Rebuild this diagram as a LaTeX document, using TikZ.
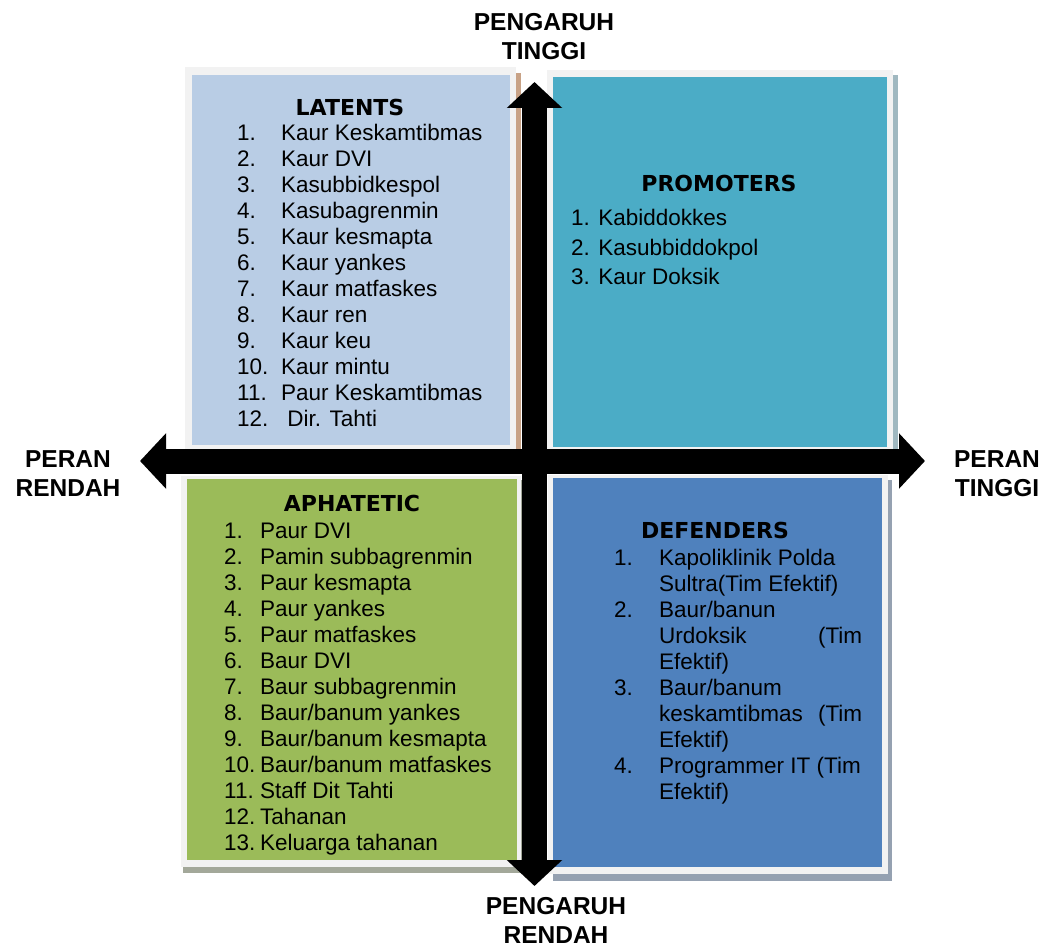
\documentclass[tikz,border=0pt]{standalone}
\usepackage{fontspec}
\setmainfont{Liberation Sans}
\newfontfamily\headfont{DejaVu Sans}
\usetikzlibrary{arrows.meta}

\definecolor{latentfill}{HTML}{B9CDE5}
\definecolor{promoterfill}{HTML}{4BACC6}
\definecolor{apathfill}{HTML}{9BBB59}
\definecolor{defenderfill}{HTML}{4F81BD}
\definecolor{framegray}{HTML}{F2F2F2}
\definecolor{latentshade}{HTML}{C8A286}
\definecolor{promotershade}{HTML}{A0B8C0}
\definecolor{apathshade}{HTML}{A3A89A}
\definecolor{defendershade}{HTML}{95A1B1}

\newcommand{\listfont}{\fontsize{22.5}{26}\selectfont}

\begin{document}
\begin{tikzpicture}[x=1pt,y=-1pt,
  title/.style={font=\headfont\fontsize{22}{27}\selectfont\bfseries},
  axislabel/.style={font=\fontsize{24.5}{29}\selectfont\bfseries, align=center},
  itemlist/.style={anchor=north west, inner sep=0pt, font=\listfont},
  axis/.style={line width=25pt, {Triangle[width=54pt,length=26pt]}-{Triangle[width=54pt,length=26pt]}}]
\useasboundingbox (0,0) rectangle (1052,949);

% quadrant boxes: shadow, frame, fill
\fill[latentshade] (190,73) rectangle (521,452);
\fill[framegray] (185,67) rectangle (516,449);
\fill[latentfill] (192,75) rectangle (510,445);

\fill[promotershade] (552,75) rectangle (898,452);
\fill[framegray] (547,70) rectangle (893,449);
\fill[promoterfill] (553,77) rectangle (887,447);

\fill[apathshade] (183,480) rectangle (526,873);
\fill[framegray] (181,476) rectangle (521,867);
\fill[apathfill] (187,479) rectangle (517,860);

\fill[defendershade] (553,480) rectangle (892,881);
\fill[framegray] (548,475) rectangle (888,874);
\fill[defenderfill] (553,478) rectangle (882,867);

% titles
\node[title] (lat) at (350,107) {LATENTS};
\node[title] (pro) at (719,183) {PROMOTERS};
\node[title] (apa) at (352,503) {APHATETIC};
\node[title] (def) at (715,530) {DEFENDERS};

% lists
\node[itemlist] (latlist) at (237,122) {\begin{tabular}{@{}p{44pt}@{}l@{}}
1. & Kaur Keskamtibmas\\
2. & Kaur DVI\\
3. & Kasubbidkespol\\
4. & Kasubagrenmin\\
5. & Kaur kesmapta\\
6. & Kaur yankes\\
7. & Kaur matfaskes\\
8. & Kaur ren\\
9. & Kaur keu\\
10. & Kaur mintu\\
11. & Paur Keskamtibmas\\
12. & \ Dir. Tahti
\end{tabular}};

\node[itemlist, font=\fontsize{22.5}{29.5}\selectfont] (prolist) at (571,205) {\begin{tabular}{@{}l@{}}
1. Kabiddokkes\\
2. Kasubbiddokpol\\
3. Kaur Doksik
\end{tabular}};

\node[itemlist] (apalist) at (224,520) {\begin{tabular}{@{}p{36pt}@{}l@{}}
1. & Paur DVI\\
2. & Pamin subbagrenmin\\
3. & Paur kesmapta\\
4. & Paur yankes\\
5. & Paur matfaskes\\
6. & Baur DVI\\
7. & Baur subbagrenmin\\
8. & Baur/banum yankes\\
9. & Baur/banum kesmapta\\
10. & Baur/banum matfaskes\\
11. & Staff Dit Tahti\\
12. & Tahanan\\
13. & Keluarga tahanan
\end{tabular}};

\node[itemlist] (deflist) at (614,547) {\begin{tabular}{@{}p{45pt}@{}l@{}}
1. & Kapoliklinik Polda\\
   & Sultra(Tim Efektif)\\
2. & Baur/banun\\
   & \makebox[203pt][s]{Urdoksik\hfill(Tim}\\
   & Efektif)\\
3. & Baur/banum\\
   & \makebox[203pt][s]{keskamtibmas\hfill(Tim}\\
   & Efektif)\\
4. & Programmer IT (Tim\\
   & Efektif)
\end{tabular}};

% axis labels
\node[axislabel] (pt) at (544,37) {PENGARUH\\TINGGI};
\node[axislabel] (pr) at (556,920) {PENGARUH\\RENDAH};
\node[axislabel] (rr) at (68,474) {PERAN\\RENDAH};
\node[axislabel] (rt) at (997,474) {PERAN\\TINGGI};

% axes
\coordinate (top) at (534.5,82);
\coordinate (bottom) at (534.5,886);
\coordinate (left) at (140,461);
\coordinate (right) at (925,461);
\draw[axis] (bottom) -- (top);
\draw[axis] (left) -- (right);
\end{tikzpicture}
\end{document}
